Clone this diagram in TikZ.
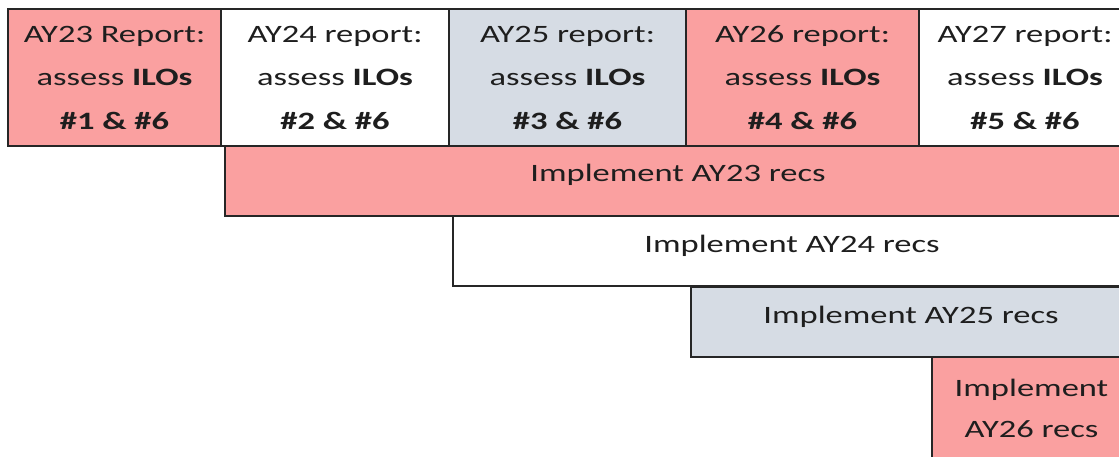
\documentclass[tikz,border=0pt]{standalone}
\usepackage{fontspec}
\setmainfont{Carlito}[FakeStretch=1.38]
\usetikzlibrary{positioning}
\definecolor{recpink}{RGB}{250,160,160}
\definecolor{recgray}{RGB}{214,220,228}
\definecolor{rectext}{RGB}{30,30,30}

\begin{document}
\begin{tikzpicture}[
  x=1pt, y=-1pt,
  every node/.style={font=\fontsize{25}{43.5}\selectfont, text=rectext},
  cell/.style={draw=black!85, line width=1.3pt, anchor=north west, inner sep=0pt, outer sep=0pt, align=center},
  report/.style={cell, minimum height=137pt},
  bar/.style={cell, minimum height=70pt, text height=18pt, text depth=16pt},
  pinkcell/.style={fill=recpink},
  graycell/.style={fill=recgray},
  whitecell/.style={fill=white}
]
  \useasboundingbox (0,0) rectangle (1119,457);
  \clip (0,0) rectangle (1119,457);

  % reports, one per year
  \node[report, pinkcell,  minimum width=213pt] (ay23) at (8,9)   {AY23 Report:\\assess \textbf{ILOs}\\\textbf{\#1 \& \#6}};
  \node[report, whitecell, minimum width=228pt] (ay24) at (221,9) {AY24 report:\\assess \textbf{ILOs}\\\textbf{\#2 \& \#6}};
  \node[report, graycell,  minimum width=237pt] (ay25) at (449,9) {AY25 report:\\assess \textbf{ILOs}\\\textbf{\#3 \& \#6}};
  \node[report, pinkcell,  minimum width=233pt] (ay26) at (686,9) {AY26 report:\\assess \textbf{ILOs}\\\textbf{\#4 \& \#6}};
  \node[report, whitecell, minimum width=212pt] (ay27) at (919,9) {AY27 report:\\assess \textbf{ILOs}\\\textbf{\#5 \& \#6}};

  % implementation of the recommendations
  \node[bar, pinkcell,  minimum width=906pt] (rec23) at (225,146) {Implement AY23 recs};
  \node[bar, whitecell, minimum width=678pt] (rec24) at (453,216) {Implement AY24 recs};
  \node[bar, graycell,  minimum width=440pt] (rec25) at (691,287) {Implement AY25 recs};
  \node[cell, pinkcell, minimum width=199pt, minimum height=103pt,
        font=\fontsize{25}{41}\selectfont] (rec26) at (932,357) {Implement\\AY26 recs};
\end{tikzpicture}
\end{document}
